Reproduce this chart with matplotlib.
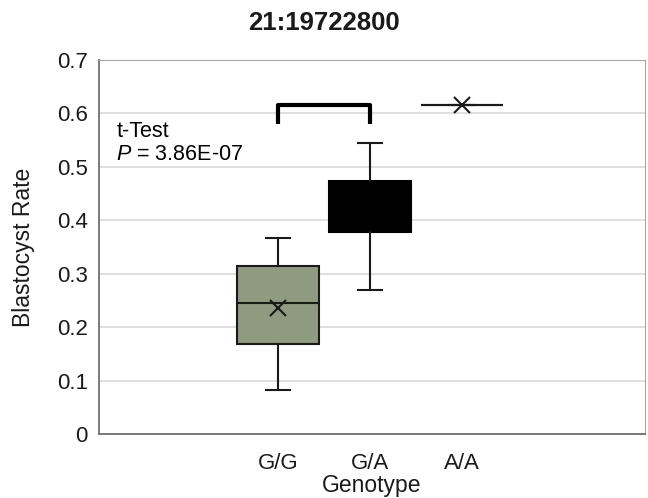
import matplotlib
matplotlib.use("Agg")
import matplotlib.pyplot as plt

plt.rcParams['font.family'] = ['Liberation Sans', 'DejaVu Sans']
plt.rcParams['mathtext.fontset'] = 'custom'
plt.rcParams['mathtext.rm'] = 'Liberation Sans'
plt.rcParams['mathtext.it'] = 'Liberation Sans:italic'

genotypes = ['G/G', 'G/A', 'A/A']
whislo = [0.083, 0.270, 0.615]
q1 = [0.169, 0.378, 0.615]
med = [0.246, 0.425, 0.615]
q3 = [0.315, 0.473, 0.615]
whishi = [0.366, 0.544, 0.615]
means = [0.235, 0.425, 0.615]
show_mean = [True, False, True]
box_colors = ['#8f9b7e', '#000000', '#000000']

bracket_left, bracket_right = 1, 2
bracket_top, bracket_bottom = 0.615, 0.58
test_name = 't-Test'
p_value = '3.86E-07'

fig = plt.figure(figsize=(6.48, 4.98), dpi=100)
ax = fig.add_axes([0.1528, 0.1285, 0.8426, 0.751])

pos = list(range(1, len(genotypes) + 1))
stats = []
for i, g in enumerate(genotypes):
    stats.append(dict(label=g, whislo=whislo[i], q1=q1[i], med=med[i],
                      q3=q3[i], whishi=whishi[i], mean=means[i]))

bp = ax.bxp(stats, positions=pos, widths=0.89, patch_artist=True,
            showmeans=False, showfliers=False,
            boxprops=dict(edgecolor='#1a1a1a', linewidth=1.5),
            medianprops=dict(color='#1a1a1a', linewidth=1.5),
            whiskerprops=dict(color='#1a1a1a', linewidth=1.5),
            capprops=dict(color='#1a1a1a', linewidth=1.5),
            capwidths=0.26, zorder=3)
for patch, c in zip(bp['boxes'], box_colors):
    patch.set_facecolor(c)
    if c == '#000000':
        patch.set_edgecolor(c)
bp['medians'][1].set_color('#000000')

mx = [p for p, s in zip(pos, show_mean) if s]
my = [m for m, s in zip(means, show_mean) if s]
ax.plot(mx, my, linestyle='none', marker='x', markersize=12,
        markeredgewidth=1.5, color='#1a1a1a', zorder=4)

# significance bracket
ax.plot([bracket_left, bracket_left, bracket_right, bracket_right],
        [bracket_bottom, bracket_top, bracket_top, bracket_bottom],
        color='black', linewidth=3, solid_joinstyle='round',
        solid_capstyle='butt', zorder=4)

ax.text(-0.76, 0.567, test_name, fontsize=15.5, va='center', ha='left')
ax.text(-0.76, 0.523, '$\\mathit{P}$ = ' + p_value, fontsize=15.5,
        va='center', ha='left')

ax.set_xlim(-0.95, 4.99)
ax.set_ylim(0, 0.7)
ax.set_yticks([0, 0.1, 0.2, 0.3, 0.4, 0.5, 0.6, 0.7])
ax.set_yticklabels(['0', '0.1', '0.2', '0.3', '0.4', '0.5', '0.6', '0.7'])
ax.set_xticks(pos)
ax.set_xticklabels(genotypes)
ax.tick_params(axis='both', length=0, labelsize=16, colors='#1a1a1a')
ax.tick_params(axis='x', pad=14)
ax.tick_params(axis='y', pad=8)
ax.yaxis.grid(True, color='#d9d9d9', linewidth=1.2, zorder=0)
ax.set_axisbelow(True)
for s in ['top', 'right']:
    ax.spines[s].set_color('#a6a6a6')
for s in ['left', 'bottom']:
    ax.spines[s].set_color('#707070')
    ax.spines[s].set_linewidth(1.3)

ax.set_ylabel('Blastocyst Rate', fontsize=16.5, labelpad=16, color='#1a1a1a')
ax.set_xlabel('Genotype', fontsize=16.5, labelpad=0, color='#1a1a1a')
fig.text(0.5, 1 - 23 / 498, '21:19722800', fontsize=18.5, fontweight='bold',
         ha='center', va='center', color='#1a1a1a')

fig.savefig('out.png', dpi=100)
